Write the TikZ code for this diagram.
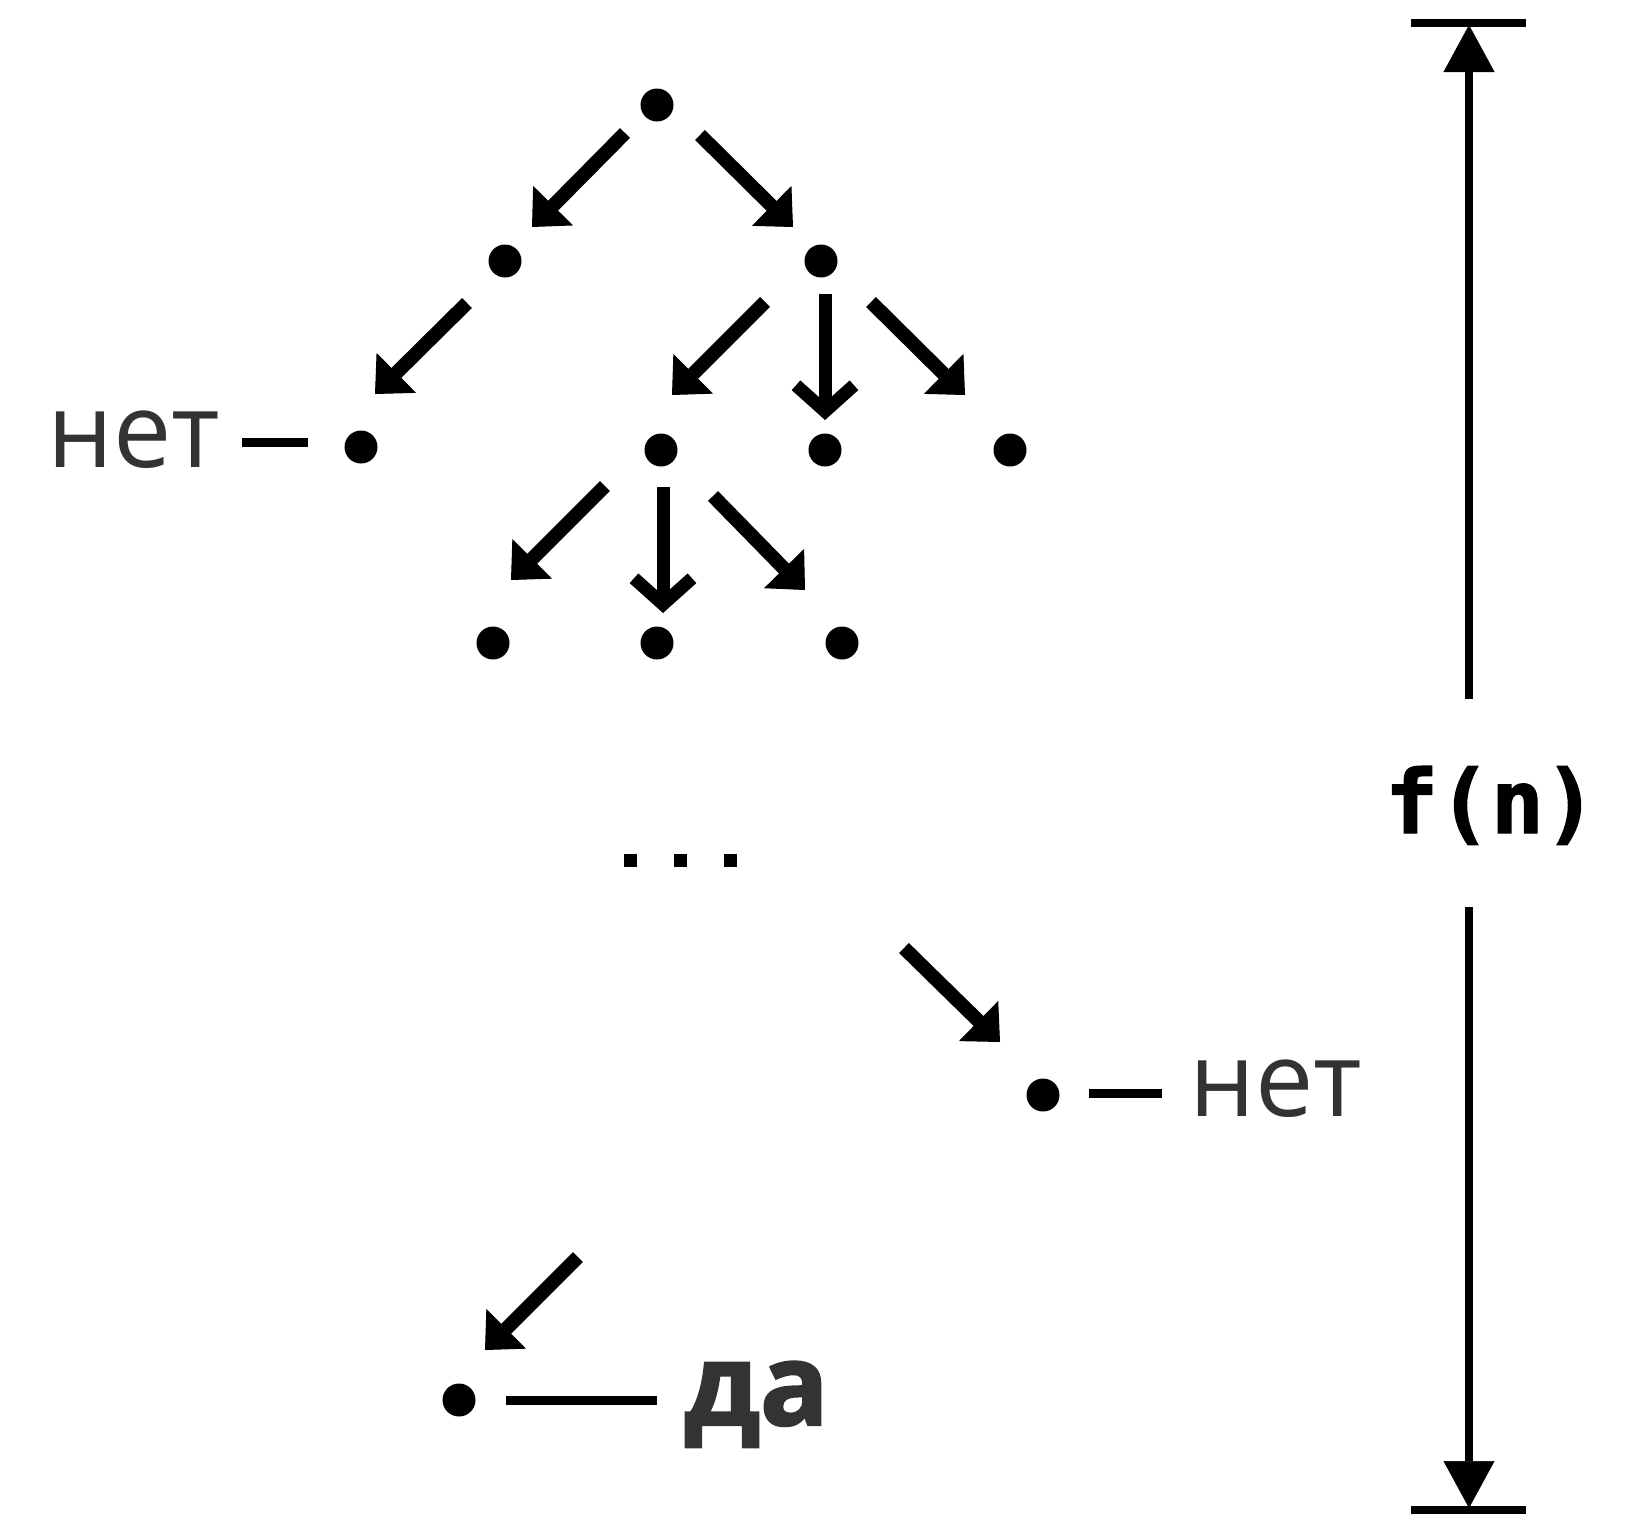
\documentclass[tikz,border=0pt]{standalone}
\usepackage{fontspec}
\setmainfont{Open Sans}
\newfontfamily\heavy[BoldFeatures={FakeBold=2}]{Open Sans}
\newfontfamily\monob[BoldFeatures={FakeBold=1.5}]{DejaVu Sans Mono}
\usetikzlibrary{arrows.meta}
\definecolor{txt}{HTML}{333333}
\begin{document}
\begin{tikzpicture}[x=1pt,y=-1pt,
  dot/.style={circle,fill=black,inner sep=0pt,minimum size=33pt},
  sq/.style={rectangle,fill=black,inner sep=0pt,minimum size=13pt},
  arr/.style={line width=14pt,-{Triangle[length=30pt,width=56pt,line width=1pt]}},
  varr/.style={line width=13pt,-{Straight Barb[length=26pt,width=58pt,sharp]}},
  dashline/.style={line width=9pt},
  dimarr/.style={line width=8pt,-{Triangle[length=47pt,width=51pt,line width=0.5pt]}},
  lbl/.style={text=txt,inner sep=0pt,anchor=base west,font=\fontsize{104}{120}\selectfont},
  lblb/.style={text=txt,inner sep=0pt,anchor=base west,font=\heavy\bfseries\fontsize{114}{130}\selectfont},
]
\useasboundingbox (0,0) rectangle (1630,1513);
% tree dots
\node[dot] (root) at (657,105) {};
\node[dot] (l1a) at (505,261) {};
\node[dot] (l1b) at (821,261) {};
\node[dot] (l2a) at (361,447) {};
\node[dot] (l2b) at (661,450) {};
\node[dot] (l2c) at (825,450) {};
\node[dot] (l2d) at (1010,450) {};
\node[dot] (l3a) at (493,643) {};
\node[dot] (l3b) at (657,643) {};
\node[dot] (l3c) at (842,643) {};
\node[dot] (nodeno) at (1043,1095) {};
\node[dot] (nodeyes) at (459,1400) {};
% ellipsis
\node[sq] (e1) at (630,860) {};
\node[sq] (e2) at (680,860) {};
\node[sq] (e3) at (730,860) {};
% arrow end points
\coordinate (a1s) at (625,133);  \coordinate (a1e) at (532,227);
\coordinate (a2s) at (700,135);  \coordinate (a2e) at (793,227);
\coordinate (a3s) at (467,303);  \coordinate (a3e) at (375,394);
\coordinate (a4s) at (765,302);  \coordinate (a4e) at (672,395);
\coordinate (a5s) at (825,294);  \coordinate (a5e) at (825,420);
\coordinate (a6s) at (871,302);  \coordinate (a6e) at (965,395);
\coordinate (a7s) at (605,486);  \coordinate (a7e) at (511,580);
\coordinate (a8s) at (663,487);  \coordinate (a8e) at (663,613);
\coordinate (a9s) at (713,496);  \coordinate (a9e) at (805,590);
\coordinate (a10s) at (904,948); \coordinate (a10e) at (1000,1042);
\coordinate (a11s) at (578,1257);\coordinate (a11e) at (485,1350);
\foreach \i in {1,2,3,4,6,7,9,10,11} {\draw[arr] (a\i s) -- (a\i e);}
\draw[varr] (a5s) -- (a5e);
\draw[varr] (a8s) -- (a8e);
% labels
\node[lbl] (net1) at (47,467) {нет};
\node[lbl] (net2) at (1189,1116) {нет};
\node[lblb] (da) at (684,1425) {да};
\draw[dashline] ([shift={(-119,-5)}]l2a.center) -- ([shift={(-53,-5)}]l2a.center);
\draw[dashline] ([shift={(46,-2)}]nodeno.center) -- ([shift={(119,-2)}]nodeno.center);
\draw[dashline] ([shift={(47,0)}]nodeyes.center) -- ([shift={(198,0)}]nodeyes.center);
% dimension
\coordinate (dtop) at (1469,25);
\coordinate (dup) at (1469,699);
\coordinate (dlow) at (1469,907);
\coordinate (dbot) at (1469,1508);
\coordinate (tbl) at (1411,23); \coordinate (tbr) at (1526,23);
\coordinate (bbl) at (1411,1510); \coordinate (bbr) at (1526,1510);
\draw[dimarr] (dup) -- (dtop);
\draw[dimarr] (dlow) -- (dbot);
\draw[line width=8pt] (tbl) -- (tbr);
\draw[line width=8pt] (bbl) -- (bbr);
\node[inner sep=0pt,anchor=base,font=\monob\bfseries\fontsize{88}{100}\selectfont] (fn) at (1491,833) {f(n)};
\end{tikzpicture}
\end{document}
